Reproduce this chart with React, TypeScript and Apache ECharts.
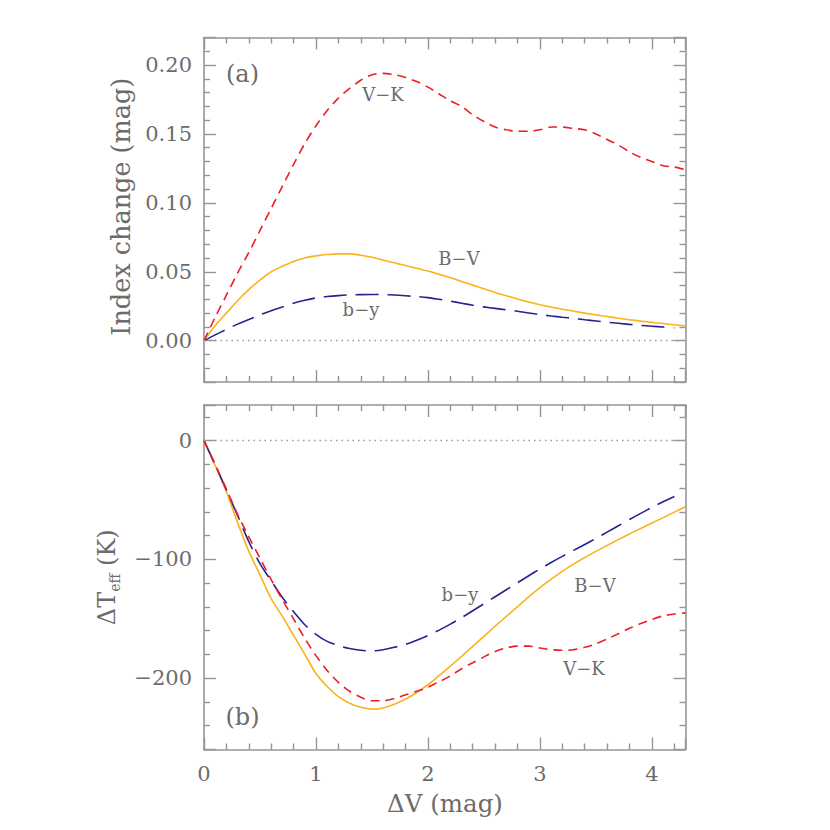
import React, { useEffect, useRef } from "react";
import * as echarts from "echarts";

// ΔV (mag) sample positions
const dV = [
  0, 0.1, 0.2, 0.3, 0.4, 0.5, 0.6, 0.7, 0.8, 0.9, 1.0, 1.1, 1.2, 1.3, 1.4, 1.5,
  1.6, 1.7, 1.8, 1.9, 2.0, 2.1, 2.2, 2.3, 2.4, 2.5, 2.6, 2.7, 2.8, 2.9, 3.0, 3.1,
  3.2, 3.3, 3.4, 3.5, 3.6, 3.7, 3.8, 3.9, 4.0, 4.1, 4.2, 4.3,
];

// Panel (a): index change (mag)
const idxVK = [
  0, 0.017, 0.033, 0.049, 0.064, 0.08, 0.096, 0.112, 0.128, 0.143, 0.156, 0.167,
  0.176, 0.183, 0.189, 0.193, 0.194, 0.193, 0.191, 0.188, 0.184, 0.179, 0.174,
  0.17, 0.164, 0.159, 0.155, 0.153, 0.152, 0.152, 0.153, 0.155, 0.155, 0.154,
  0.153, 0.15, 0.146, 0.142, 0.137, 0.133, 0.13, 0.127, 0.126, 0.124,
];
const idxBV = [
  0, 0.011, 0.02, 0.029, 0.037, 0.044, 0.05, 0.054, 0.0575, 0.06, 0.0615, 0.0625,
  0.063, 0.063, 0.062, 0.0605, 0.0585, 0.0565, 0.0545, 0.0525, 0.0505, 0.0481,
  0.0456, 0.043, 0.0403, 0.0376, 0.035, 0.0326, 0.0303, 0.0281, 0.0261, 0.0244,
  0.0228, 0.0214, 0.02, 0.0187, 0.0175, 0.0163, 0.0152, 0.0142, 0.0133, 0.0124,
  0.0115, 0.0107,
];
const idxBY = [
  0, 0.0042, 0.0082, 0.012, 0.0153, 0.0187, 0.0217, 0.0244, 0.0272, 0.0293, 0.031,
  0.032, 0.0327, 0.0332, 0.0334, 0.0335, 0.0334, 0.0331, 0.0326, 0.032, 0.0312,
  0.03, 0.0287, 0.0272, 0.0257, 0.0245, 0.0234, 0.0224, 0.0214, 0.0201, 0.0189,
  0.0179, 0.017, 0.0162, 0.0152, 0.0143, 0.0134, 0.0126, 0.0118, 0.0111, 0.0105,
  0.0099, 0.0093, null,
];

// Panel (b): ΔTeff (K)
const tVK = [
  0, -20, -41, -62, -81, -99, -117, -134, -150, -166.5, -181, -193.5, -203.5,
  -211, -216, -219, -219, -217, -214, -211, -207.5, -203, -198, -192, -187, -182,
  -177.5, -174.5, -173, -173, -174.5, -176, -176.5, -176, -174, -171, -167,
  -162.5, -158, -154, -150.5, -147.5, -146, -145,
];
const tBV = [
  0, -21, -43, -69, -93, -113, -133, -148, -164, -180, -196, -207, -215.5, -221,
  -224.5, -226, -225, -222, -217.5, -212, -205.5, -197.8, -189.8, -181.6, -173.2,
  -164.7, -156.2, -147.9, -139.8, -131.5, -123.8, -116.6, -110, -104, -98.4,
  -93.2, -88.2, -83.3, -78.5, -73.9, -69.4, -64.8, -60.2, -55.6,
];
const tBY = [
  0, -20.5, -41.5, -63, -85, -103.5, -118, -132, -144, -155, -163, -169, -172.5,
  -175, -176.5, -177, -176, -174, -171.5, -168, -164, -159.5, -154.5, -149,
  -143.2, -137.3, -131.4, -125.5, -119.6, -113.7, -108, -102.6, -97.4, -92.4,
  -87.4, -82.3, -77, -71.7, -66.4, -61.2, -56.2, -51.5, -47, null,
];

const seriesNames = ["V−K", "B−V", "b−y"];

const FONT = '"DejaVu Serif", serif';
const TEXT = "#6c6c6c";
const AXIS = "#959595";
const RED = "#ee1d25";
const ORANGE = "#fbb21b";
const NAVY = "#24248e";

function pairs(ys: (number | null)[]) {
  const out: [number, number][] = [];
  dV.forEach((x, i) => {
    const y = ys[i];
    if (y !== null && y !== undefined) out.push([x, y]);
  });
  return out;
}

function measure(t: string, size: number) {
  const ctx = document.createElement("canvas").getContext("2d");
  if (!ctx) return t.length * size * 0.6;
  ctx.font = `${size}px "DejaVu Serif"`;
  return ctx.measureText(t).width;
}

export default function App() {
  const ref = useRef<HTMLDivElement>(null);

  useEffect(() => {
    if (!ref.current) return;
    const chart = echarts.init(ref.current, null, { renderer: "svg" });

    const L = 204;
    const W = 481.5;
    const H = 344.5;
    const T1 = 37.5;
    const T2 = 405;

    const tickCommon = {
      axisLine: { show: true, onZero: false, lineStyle: { color: AXIS, width: 1.6 } },
      axisTick: { show: true, inside: true, length: 12, lineStyle: { color: AXIS, width: 1.4 } },
      minorTick: { show: true, splitNumber: 5, length: 6, lineStyle: { color: AXIS, width: 1.4 } },
      splitLine: { show: false },
      minorSplitLine: { show: false },
    };

    const xFmt = (v: number) => {
      if (v > 4.0001 || Math.abs(v - Math.round(v)) > 1e-6) return "";
      return String(Math.round(v));
    };
    const yTopFmt = (v: number) => {
      const k = Math.round(v / 0.05);
      if (Math.abs(v - k * 0.05) > 1e-6) return "";
      return (k * 0.05).toFixed(2);
    };
    const yBotFmt = (v: number) => {
      const k = Math.round(v / 100);
      if (Math.abs(v - k * 100) > 1e-6) return "";
      const n = k * 100;
      return n < 0 ? "−" + Math.abs(n) : String(n);
    };

    const labelStyle = { color: TEXT, fontFamily: FONT, fontSize: 21 };

    const xAxes: any[] = [];
    const yAxes: any[] = [];
    [0, 1].forEach((g) => {
      xAxes.push({
        type: "value", gridIndex: g, position: "bottom", min: 0, max: 4.3, interval: 1,
        ...tickCommon,
        axisLabel: g === 1
          ? { show: true, margin: 14, formatter: xFmt, ...labelStyle }
          : { show: false },
      });
      xAxes.push({
        type: "value", gridIndex: g, position: "top", min: 0, max: 4.3, interval: 1,
        ...tickCommon, axisLabel: { show: false },
      });
    });
    yAxes.push({
      type: "value", gridIndex: 0, position: "left", min: -0.03, max: 0.22, splitNumber: 5,
      ...tickCommon,
      axisLabel: { show: true, margin: 12, formatter: yTopFmt, ...labelStyle },
    });
    yAxes.push({
      type: "value", gridIndex: 0, position: "right", min: -0.03, max: 0.22, splitNumber: 5,
      ...tickCommon, axisLabel: { show: false },
    });
    yAxes.push({
      type: "value", gridIndex: 1, position: "left", min: -260, max: 30, splitNumber: 3,
      ...tickCommon,
      axisLabel: { show: true, margin: 12, formatter: yBotFmt, ...labelStyle },
    });
    yAxes.push({
      type: "value", gridIndex: 1, position: "right", min: -260, max: 30, splitNumber: 3,
      ...tickCommon, axisLabel: { show: false },
    });

    const zeroLine = {
      silent: true,
      symbol: "none",
      label: { show: false },
      lineStyle: { type: [1.5, 4], color: "#9a9a9a", width: 1.3 },
      data: [{ yAxis: 0 }],
    };

    const mk = (name: string, data: [number, number][], color: string, dash: any, xi: number, yi: number, extra: any = {}) => ({
      type: "line",
      name,
      data,
      xAxisIndex: xi,
      yAxisIndex: yi,
      showSymbol: false,
      smooth: 0.3,
      lineStyle: { color, width: 1.6, type: dash },
      ...extra,
    });

    const series = [
      mk(seriesNames[1], pairs(idxBV), ORANGE, "solid", 0, 0, { markLine: zeroLine }),
      mk(seriesNames[2], pairs(idxBY), NAVY, [23, 9], 0, 0),
      mk(seriesNames[0], pairs(idxVK), RED, [9, 6], 0, 0),
      mk(seriesNames[1], pairs(tBV), ORANGE, "solid", 2, 2, { markLine: zeroLine }),
      mk(seriesNames[2], pairs(tBY), NAVY, [23, 9], 2, 2),
      mk(seriesNames[0], pairs(tVK), RED, [9, 6], 2, 2),
    ];

    const txt = (text: string, x: number, y: number, size: number, extra: any = {}) => ({
      type: "text",
      x,
      y,
      silent: true,
      ...extra,
      style: {
        text,
        fill: TEXT,
        fontSize: size,
        fontFamily: FONT,
        align: "center",
        textAlign: "center",
        verticalAlign: "middle",
        textVerticalAlign: "middle",
        ...(extra.style || {}),
      },
    });

    // ΔT_eff (K) title built from pieces
    const w1 = measure("ΔT", 24);
    const w2 = measure("eff", 14);
    const w3 = measure(" (K)", 24);
    const Wt = w1 + w2 + w3;
    const leftStyle = { align: "left", textAlign: "left" };

    const graphic = [
      txt("Index change (mag)", 121, T1 + H / 2 - 3, 25.5, { rotation: Math.PI / 2 }),
      {
        type: "group",
        x: 107,
        y: T2 + H / 2,
        rotation: Math.PI / 2,
        children: [
          txt("ΔT", -Wt / 2, 0, 24, { style: leftStyle }),
          txt("eff", -Wt / 2 + w1, 8, 14, { style: leftStyle }),
          txt(" (K)", -Wt / 2 + w1 + w2, 0, 24, { style: leftStyle }),
        ],
      },
      txt("ΔV (mag)", 445, 803, 24.5),
      txt("(a)", 242.5, 74, 24),
      txt("(b)", 242.5, 716.5, 24),
      txt("V−K", 383, 94, 18),
      txt("B−V", 459, 258, 18),
      txt("b−y", 361, 309, 18),
      txt("b−y", 460, 594.5, 18),
      txt("B−V", 595, 585, 18),
      txt("V−K", 584, 668, 18),
    ];

    chart.setOption({
      animation: false,
      backgroundColor: "#ffffff",
      grid: [
        { left: L, top: T1, width: W, height: H },
        { left: L, top: T2, width: W, height: H },
      ],
      xAxis: xAxes,
      yAxis: yAxes,
      series,
      graphic,
    });

    return () => chart.dispose();
  }, []);

  return (
    <div
      ref={ref}
      style={{ position: "absolute", left: 0, top: 0, width: 830, height: 830 }}
    />
  );
}
